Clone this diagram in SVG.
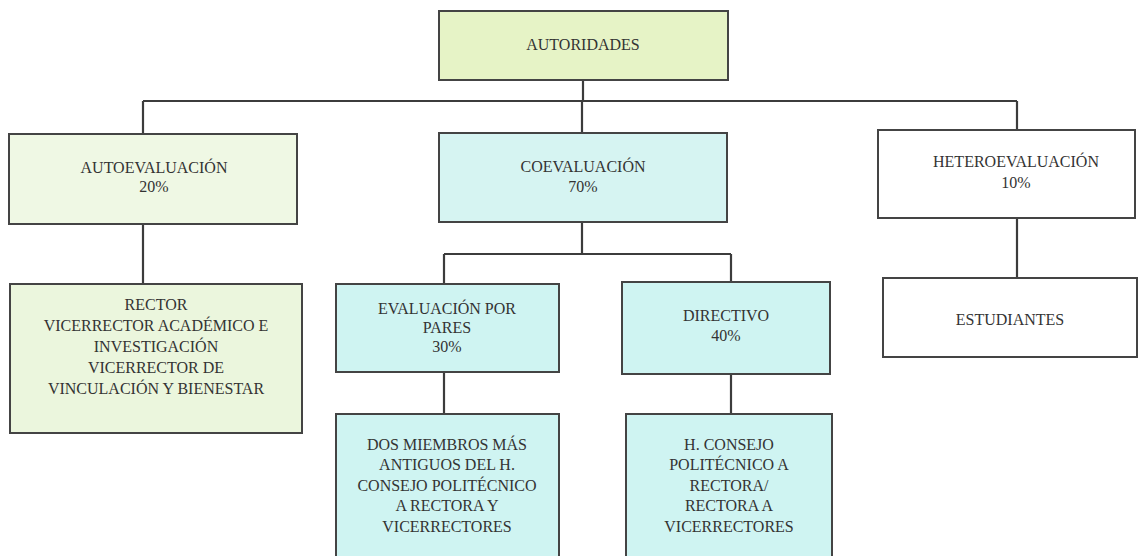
<svg xmlns="http://www.w3.org/2000/svg" width="1140" height="556" viewBox="0 0 1140 556">
<style>
.box{stroke:#444;stroke-width:2}
.t{font-family:"Liberation Serif","DejaVu Serif",serif;font-size:16px;fill:#333333;text-anchor:middle}
.c{stroke:#3c3c3c;stroke-width:2.2;fill:none}
</style>
<rect width="1140" height="556" fill="#ffffff"/>
<g id="connectors">
<path class="c" d="M583 80V101M143 101H1017M143 101V134M582 101V133M1017 101V130"/>
<path class="c" d="M143 224V284M582 222V254M444 254H731M444 254V284M731 254V282M1017 218V278"/>
<path class="c" d="M444 372V414M731 374V414"/>
</g>
<g id="autoridades">
<rect class="box" x="439" y="11" width="289" height="69" fill="#e6f3c6"/>
<text class="t" x="583" y="50">AUTORIDADES</text>
</g>
<g id="autoevaluacion">
<rect class="box" x="9" y="134" width="288" height="90" fill="#eff8e4"/>
<text class="t" x="154" y="173">AUTOEVALUACIÓN</text>
<text class="t" x="154" y="192">20%</text>
</g>
<g id="coevaluacion">
<rect class="box" x="439" y="133" width="288" height="89" fill="#d6f4f2"/>
<text class="t" x="583" y="172">COEVALUACIÓN</text>
<text class="t" x="583" y="192">70%</text>
</g>
<g id="heteroevaluacion">
<rect class="box" x="878" y="130" width="257" height="88" fill="#ffffff"/>
<text class="t" x="1016" y="167">HETEROEVALUACIÓN</text>
<text class="t" x="1016" y="188">10%</text>
</g>
<g id="rector">
<rect class="box" x="10" y="284" width="292" height="149" fill="#ebf6dd"/>
<text class="t" x="156" y="310">RECTOR</text>
<text class="t" x="156" y="331">VICERRECTOR ACADÉMICO E</text>
<text class="t" x="156" y="352">INVESTIGACIÓN</text>
<text class="t" x="156" y="373">VICERRECTOR DE</text>
<text class="t" x="156" y="394">VINCULACIÓN Y BIENESTAR</text>
</g>
<g id="pares">
<rect class="box" x="336" y="284" width="223" height="88" fill="#cff4f2"/>
<text class="t" x="447" y="314">EVALUACIÓN POR</text>
<text class="t" x="447" y="333">PARES</text>
<text class="t" x="447" y="352">30%</text>
</g>
<g id="directivo">
<rect class="box" x="622" y="282" width="208" height="92" fill="#cff4f2"/>
<text class="t" x="726" y="321">DIRECTIVO</text>
<text class="t" x="726" y="341">40%</text>
</g>
<g id="estudiantes">
<rect class="box" x="883" y="278" width="254" height="79" fill="#ffffff"/>
<text class="t" x="1010" y="325">ESTUDIANTES</text>
</g>
<g id="miembros">
<rect class="box" x="336" y="414" width="223" height="150" fill="#cff4f2"/>
<text class="t" x="447" y="450">DOS MIEMBROS MÁS</text>
<text class="t" x="447" y="470">ANTIGUOS DEL H.</text>
<text class="t" x="447" y="491">CONSEJO POLITÉCNICO</text>
<text class="t" x="447" y="511">A RECTORA Y</text>
<text class="t" x="447" y="532">VICERRECTORES</text>
</g>
<g id="consejo">
<rect class="box" x="626" y="414" width="206" height="150" fill="#cff4f2"/>
<text class="t" x="729" y="450">H. CONSEJO</text>
<text class="t" x="729" y="470">POLITÉCNICO A</text>
<text class="t" x="729" y="491">RECTORA/</text>
<text class="t" x="729" y="511">RECTORA A</text>
<text class="t" x="729" y="532">VICERRECTORES</text>
</g>
</svg>
